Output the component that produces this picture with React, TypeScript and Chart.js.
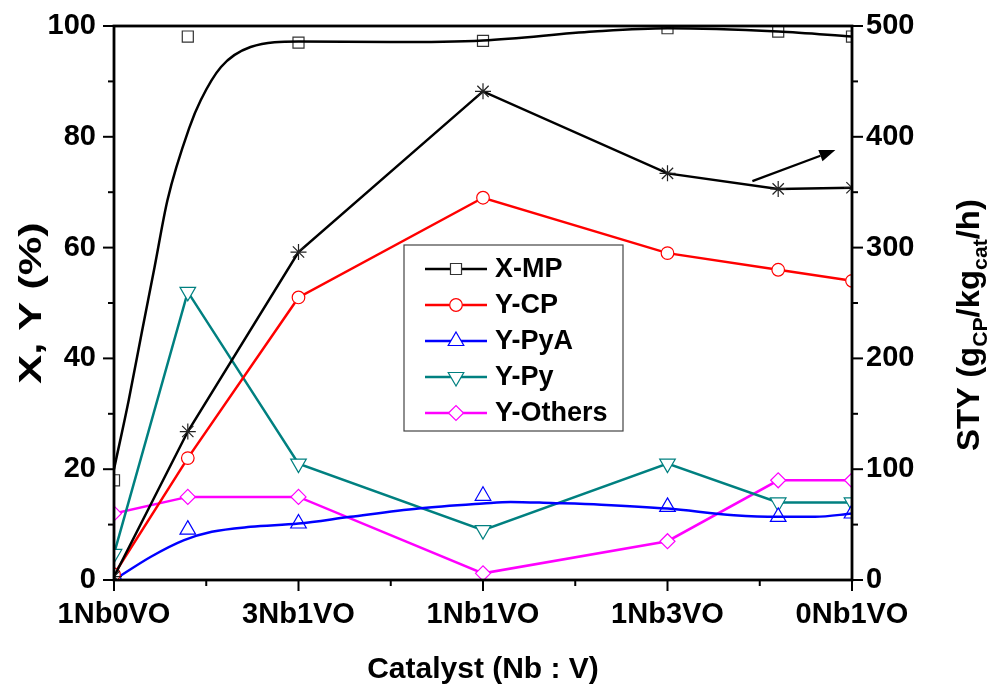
import React, { useEffect, useRef } from 'react';
import { Chart, registerables } from 'chart.js';
import { drawPoint } from 'chart.js/helpers';

Chart.register(...registerables);

// ---- data ----
const xPositions = [0, 0.4, 1, 2, 3, 3.6, 4];
const xTickValues = [0, 1, 2, 3, 4];
const xTickNames = ['1Nb0VO', '3Nb1VO', '1Nb1VO', '1Nb3VO', '0Nb1VO'];

const xmpPoints = [18, 98.1, 97.0, 97.3, 99.6, 99.0, 98.1];
const xmpFitX = [0, 0.08, 0.15, 0.22, 0.29, 0.41, 0.47, 0.58, 0.74, 1.0, 1.5, 2.0, 2.6, 3.0, 3.6, 4.0];
const xmpFitY = [20, 32.5, 44.6, 56.5, 68.6, 81.8, 86.6, 92.6, 96.2, 97.2, 97.1, 97.4, 99.0, 99.6, 99.0, 98.1];

const styValues = [3, 134, 296, 441, 367, 353, 354];
const ycpValues = [1, 22, 51, 69, 59, 56, 54];
const ypyaValues = [0.8, 9.1, 10.2, 15.2, 13.2, 11.4, 12.0];
const ypyaFitX = [0, 0.2, 0.38, 0.53, 0.74, 1.0, 1.28, 1.65, 2.0, 2.15, 2.37, 2.64, 3.0, 3.36, 3.6, 3.8, 4.0];
const ypyaFitY = [0, 4.2, 7.2, 8.7, 9.6, 10.2, 11.4, 12.9, 13.8, 14.1, 13.9, 13.6, 12.9, 11.7, 11.4, 11.4, 12.0];
const ypyValues = [4.7, 52, 21, 9, 21, 14, 14];
const yothersValues = [12, 15, 15, 1.2, 7, 18, 18];

const arrowFrom = [3.46, 360];
const arrowTo = [3.91, 388];

const legendLabels = ['X-MP', 'Y-CP', 'Y-PyA', 'Y-Py', 'Y-Others'];

const FONT = '"Liberation Sans", Arial, Helvetica, sans-serif';
const BLACK = '#000000';
const RED = '#ff0000';
const BLUE = '#0000ff';
const TEAL = '#008080';
const MAGENTA = '#ff00ff';

const zip = (xs: number[], ys: number[]) => xs.map((x, i) => ({ x, y: ys[i] }));

const legendItems = [
  { label: legendLabels[0], color: BLACK, pointColor: '#333333', pointStyle: 'rect', radius: 7.8, rotation: 0 },
  { label: legendLabels[1], color: RED, pointColor: RED, pointStyle: 'circle', radius: 6.3, rotation: 0 },
  { label: legendLabels[2], color: BLUE, pointColor: BLUE, pointStyle: 'triangle', radius: 9, rotation: 0 },
  { label: legendLabels[3], color: TEAL, pointColor: TEAL, pointStyle: 'triangle', radius: 9, rotation: 180 },
  { label: legendLabels[4], color: MAGENTA, pointColor: MAGENTA, pointStyle: 'rectRot', radius: 7.5, rotation: 0 },
];

const decorPlugin = {
  id: 'decor',
  afterDraw(chart: any) {
    const { ctx, chartArea: ca, scales } = chart;
    const sx = scales.x, sy = scales.y, sy2 = scales.y2;
    ctx.save();
    // frame
    ctx.strokeStyle = BLACK;
    ctx.lineWidth = 2.8;
    ctx.strokeRect(ca.left, ca.top, ca.right - ca.left, ca.bottom - ca.top);
    // ticks
    ctx.lineWidth = 2;
    const line = (x1: number, y1: number, x2: number, y2: number) => {
      ctx.beginPath(); ctx.moveTo(x1, y1); ctx.lineTo(x2, y2); ctx.stroke();
    };
    sx.ticks.forEach((t: any) => {
      const px = sx.getPixelForValue(t.value);
      const major = xTickValues.includes(t.value);
      line(px, ca.bottom, px, ca.bottom + (major ? 11 : 6));
    });
    sy.ticks.forEach((t: any) => {
      const py = sy.getPixelForValue(t.value);
      const major = t.value % 20 === 0;
      line(ca.left, py, ca.left - (major ? 11 : 6), py);
    });
    sy2.ticks.forEach((t: any) => {
      const py = sy2.getPixelForValue(t.value);
      const major = t.value % 100 === 0;
      line(ca.right, py, ca.right + (major ? 11 : 6), py);
    });

    // arrow
    const ax1 = sx.getPixelForValue(arrowFrom[0]);
    const ay1 = sy2.getPixelForValue(arrowFrom[1]);
    const ax2 = sx.getPixelForValue(arrowTo[0]);
    const ay2 = sy2.getPixelForValue(arrowTo[1]);
    const ang = Math.atan2(ay2 - ay1, ax2 - ax1);
    const hl = 16, hw = 6;
    ctx.lineWidth = 2.2;
    const bx = ax2 - hl * Math.cos(ang), by = ay2 - hl * Math.sin(ang);
    line(ax1, ay1, bx, by);
    ctx.fillStyle = BLACK;
    ctx.beginPath();
    ctx.moveTo(ax2, ay2);
    ctx.lineTo(bx + hw * Math.sin(ang), by - hw * Math.cos(ang));
    ctx.lineTo(bx - hw * Math.sin(ang), by + hw * Math.cos(ang));
    ctx.closePath();
    ctx.fill();

    // legend
    const lx = ca.left + 290, ly = ca.top + 219, lw = 219, lh = 186;
    ctx.fillStyle = '#ffffff';
    ctx.fillRect(lx, ly, lw, lh);
    ctx.strokeStyle = '#444444';
    ctx.lineWidth = 1.2;
    ctx.strokeRect(lx, ly, lw, lh);
    ctx.font = `bold 27px ${FONT}`;
    ctx.textBaseline = 'middle';
    ctx.textAlign = 'left';
    legendItems.forEach((it, i) => {
      const cy = ly + 24 + i * 36;
      ctx.strokeStyle = it.color;
      ctx.lineWidth = 2.5;
      line(lx + 21, cy, lx + 83, cy);
      ctx.fillStyle = '#ffffff';
      ctx.strokeStyle = it.pointColor;
      ctx.lineWidth = 1.2;
      drawPoint(ctx, { pointStyle: it.pointStyle as any, radius: it.radius, rotation: it.rotation, borderWidth: 1.2 }, lx + 52, cy);
      ctx.fillStyle = BLACK;
      ctx.fillText(it.label, lx + 91, cy + 1);
    });

    // axis titles
    ctx.fillStyle = BLACK;
    ctx.font = `bold 30px ${FONT}`;
    ctx.textAlign = 'center';
    ctx.textBaseline = 'alphabetic';
    ctx.fillText('Catalyst (Nb : V)', (ca.left + ca.right) / 2, 678);

    ctx.save();
    ctx.translate(41, (ca.top + ca.bottom) / 2);
    ctx.rotate(-Math.PI / 2);
    ctx.scale(1.4, 1);
    ctx.font = `bold 31px ${FONT}`;
    ctx.fillText('X, Y (%)', 0, 0);
    ctx.restore();

    // right title with subscripts
    const parts = [
      { t: 'STY (g', sub: false },
      { t: 'CP', sub: true },
      { t: '/kg', sub: false },
      { t: 'cat', sub: true },
      { t: '/h)', sub: false },
    ];
    const mainFont = `bold 31px ${FONT}`;
    const subFont = `bold 20px ${FONT}`;
    let total = 0;
    parts.forEach(p => { ctx.font = p.sub ? subFont : mainFont; total += ctx.measureText(p.t).width; });
    ctx.save();
    ctx.translate(979, 325);
    ctx.rotate(-Math.PI / 2);
    ctx.scale(1.06, 1);
    ctx.textAlign = 'left';
    let cx = -total / 2;
    parts.forEach(p => {
      ctx.font = p.sub ? subFont : mainFont;
      ctx.fillText(p.t, cx, p.sub ? 8 : 0);
      cx += ctx.measureText(p.t).width;
    });
    ctx.restore();

    ctx.restore();
  },
};

export default function App() {
  const ref = useRef<HTMLCanvasElement | null>(null);
  useEffect(() => {
    if (!ref.current) return;
    const chart = new Chart(ref.current, {
      type: 'line',
      data: {
        datasets: [
          {
            label: 'X-MP fit', data: zip(xmpFitX, xmpFitY), borderColor: BLACK, borderWidth: 2.5,
            pointRadius: 0, cubicInterpolationMode: 'monotone', yAxisID: 'y', fill: false,
          },
          {
            label: 'X-MP', data: zip(xPositions, xmpPoints), showLine: false, borderColor: '#333333',
            pointBackgroundColor: '#ffffff', pointBorderColor: '#333333', pointBorderWidth: 1.2,
            pointStyle: 'rect', pointRadius: 7.8, yAxisID: 'y',
          },
          {
            label: 'STY', data: zip(xPositions, styValues), borderColor: BLACK, borderWidth: 2.5,
            pointStyle: 'star', pointRadius: 8, pointBorderColor: '#222222', pointBorderWidth: 1.2,
            pointBackgroundColor: '#ffffff', yAxisID: 'y2', tension: 0,
          },
          {
            label: 'Y-CP', data: zip(xPositions, ycpValues), borderColor: RED, borderWidth: 2.5,
            pointStyle: 'circle', pointRadius: 6.3, pointBorderColor: RED, pointBorderWidth: 1.2,
            pointBackgroundColor: '#ffffff', yAxisID: 'y', tension: 0,
          },
          {
            label: 'Y-PyA fit', data: zip(ypyaFitX, ypyaFitY), borderColor: BLUE, borderWidth: 2.5,
            pointRadius: 0, cubicInterpolationMode: 'monotone', yAxisID: 'y',
          },
          {
            label: 'Y-PyA', data: zip(xPositions, ypyaValues), showLine: false, borderColor: BLUE,
            pointStyle: 'triangle', pointRadius: 9, pointBorderColor: BLUE, pointBorderWidth: 1.2,
            pointBackgroundColor: '#ffffff', yAxisID: 'y',
          },
          {
            label: 'Y-Py', data: zip(xPositions, ypyValues), borderColor: TEAL, borderWidth: 2.5,
            pointStyle: 'triangle', pointRotation: 180, pointRadius: 9, pointBorderColor: TEAL,
            pointBorderWidth: 1.2, pointBackgroundColor: '#ffffff', yAxisID: 'y', tension: 0,
          },
          {
            label: 'Y-Others', data: zip(xPositions, yothersValues), borderColor: MAGENTA, borderWidth: 2.5,
            pointStyle: 'rectRot', pointRadius: 7.5, pointBorderColor: MAGENTA, pointBorderWidth: 1.2,
            pointBackgroundColor: '#ffffff', yAxisID: 'y', tension: 0,
          },
        ] as any,
      },
      options: {
        animation: false,
        responsive: false,
        maintainAspectRatio: false,
        layout: { padding: { top: 26, left: 0, right: 0, bottom: 0 } },
        plugins: { legend: { display: false }, tooltip: { enabled: false }, title: { display: false } },
        scales: {
          x: {
            type: 'linear', min: 0, max: 4,
            afterFit: (s: any) => { s.height = 110; },
            ticks: {
              stepSize: 0.5, autoSkip: false, maxRotation: 0, padding: 7,
              color: BLACK, font: { family: FONT, size: 29, weight: 'bold' },
              callback: (v: any) => {
                const i = xTickValues.indexOf(Number(v));
                return i >= 0 ? xTickNames[i] : '';
              },
            },
            grid: { drawOnChartArea: false, tickLength: 11, tickColor: 'rgba(0,0,0,0)' },
            border: { display: false },
          },
          y: {
            type: 'linear', position: 'left', min: 0, max: 100,
            afterFit: (s: any) => { s.width = 114; },
            ticks: {
              stepSize: 10, autoSkip: false, padding: 7, color: BLACK,
              font: { family: FONT, size: 29, weight: 'bold' },
              callback: (v: any) => (Number(v) % 20 === 0 ? String(v) : ''),
            },
            grid: { drawOnChartArea: false, tickLength: 11, tickColor: 'rgba(0,0,0,0)' },
            border: { display: false },
          },
          y2: {
            type: 'linear', position: 'right', min: 0, max: 500,
            afterFit: (s: any) => { s.width = 137; },
            ticks: {
              stepSize: 50, autoSkip: false, padding: 3, color: BLACK,
              font: { family: FONT, size: 29, weight: 'bold' },
              callback: (v: any) => (Number(v) % 100 === 0 ? String(v) : ''),
            },
            grid: { drawOnChartArea: false, tickLength: 11, tickColor: 'rgba(0,0,0,0)' },
            border: { display: false },
          },
        },
      } as any,
      plugins: [decorPlugin],
    });
    return () => chart.destroy();
  }, []);

  return (
    <div style={{ position: 'absolute', left: 0, top: 0, width: 989, height: 690, background: '#ffffff' }}>
      <canvas ref={ref} width={989} height={690} style={{ display: 'block', width: 989, height: 690 }} />
    </div>
  );
}
